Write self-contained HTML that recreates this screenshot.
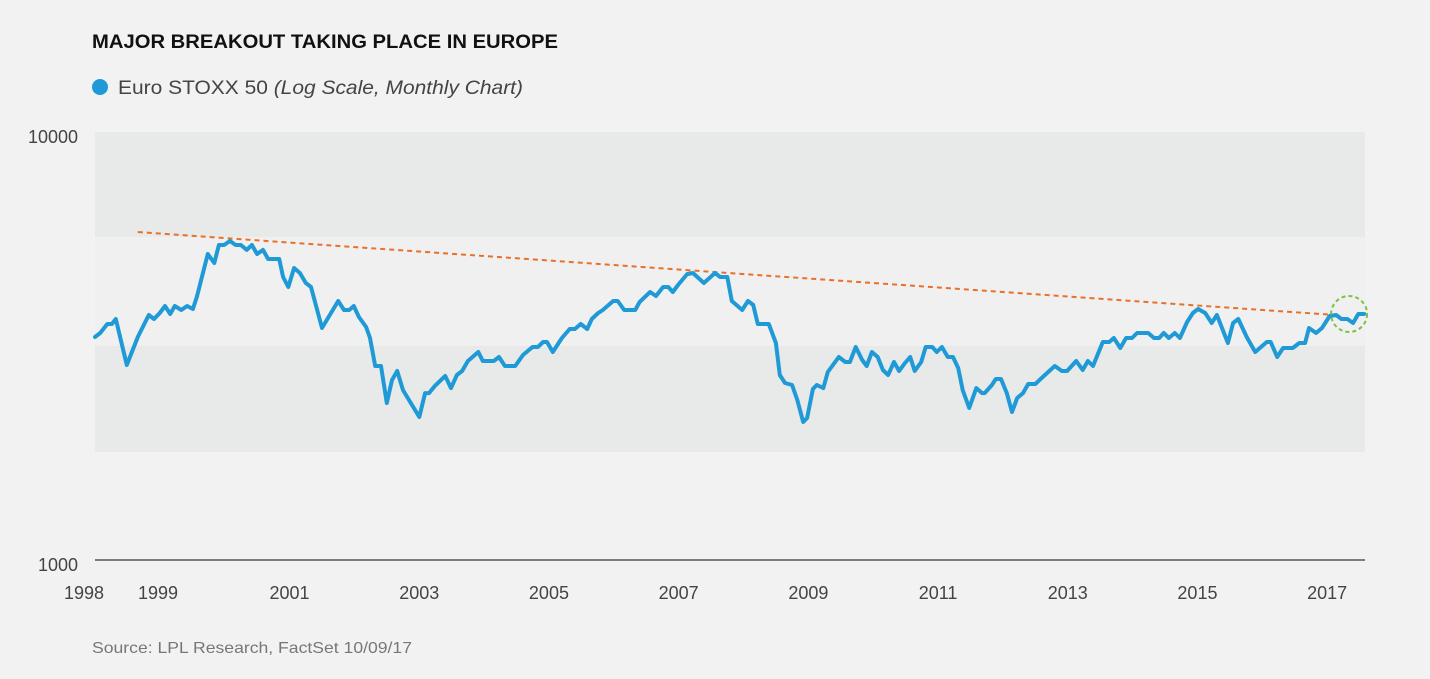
<!DOCTYPE html>
<html><head><meta charset="utf-8"><style>
html,body{margin:0;padding:0;background:#f2f2f2;}
svg{display:block;font-family:"Liberation Sans Narrow","Liberation Sans",sans-serif;}
</style></head><body>
<svg id="chart" width="1430" height="679" viewBox="0 0 1430 679">
<rect width="1430" height="679" fill="#f2f2f2"/>
<g id="bands"></g>
<text x="92" y="48" font-size="19" font-weight="bold" fill="#111" textLength="466" lengthAdjust="spacingAndGlyphs">MAJOR BREAKOUT TAKING PLACE IN EUROPE</text>
<circle cx="100" cy="87" r="8" fill="#1f9ad6"/>
<text x="118" y="94" font-size="19" fill="#444" textLength="405" lengthAdjust="spacingAndGlyphs">Euro STOXX 50 <tspan font-style="italic">(Log Scale, Monthly Chart)</tspan></text>
<g id="yticks"></g>
<g id="xticks"></g>
<line x1="95" y1="560" x2="1365" y2="560" stroke="#555" stroke-width="1.5"/>
<g id="marks"></g>
<text x="92" y="653" font-size="16" fill="#777" textLength="320" lengthAdjust="spacingAndGlyphs">Source: LPL Research, FactSet  10/09/17</text>
</svg>
<script>
const dates=[1998.00,1998.08,1998.19,1998.26,1998.32,1998.49,1998.66,1998.83,1998.91,1999.00,1999.08,1999.16,1999.23,1999.33,1999.42,1999.51,1999.57,1999.74,1999.84,1999.91,1999.99,2000.08,2000.17,2000.25,2000.34,2000.42,2000.50,2000.59,2000.67,2000.84,2000.90,2000.98,2001.07,2001.16,2001.25,2001.33,2001.50,2001.75,2001.84,2001.92,2001.99,2002.07,2002.18,2002.24,2002.32,2002.41,2002.50,2002.58,2002.66,2002.75,2002.86,2003.00,2003.09,2003.15,2003.24,2003.40,2003.49,2003.58,2003.66,2003.75,2003.91,2003.98,2004.15,2004.23,2004.32,2004.48,2004.60,2004.71,2004.75,2004.83,2004.91,2004.97,2005.06,2005.20,2005.32,2005.40,2005.49,2005.59,2005.66,2005.76,2005.83,2005.99,2006.06,2006.16,2006.33,2006.40,2006.56,2006.65,2006.76,2006.84,2006.91,2006.99,2007.13,2007.22,2007.39,2007.56,2007.64,2007.75,2007.82,2007.98,2008.07,2008.15,2008.22,2008.39,2008.50,2008.56,2008.64,2008.75,2008.83,2008.92,2008.98,2009.07,2009.13,2009.23,2009.30,2009.47,2009.57,2009.64,2009.73,2009.83,2009.90,2009.98,2010.07,2010.15,2010.23,2010.32,2010.40,2010.49,2010.57,2010.64,2010.74,2010.81,2010.91,2010.98,2011.06,2011.15,2011.23,2011.31,2011.38,2011.48,2011.59,2011.68,2011.72,2011.83,2011.89,2011.97,2012.06,2012.14,2012.22,2012.31,2012.39,2012.50,2012.63,2012.80,2012.91,2012.99,2013.13,2013.23,2013.31,2013.39,2013.54,2013.64,2013.71,2013.81,2013.90,2013.99,2014.07,2014.24,2014.33,2014.41,2014.48,2014.56,2014.65,2014.73,2014.84,2014.93,2015.01,2015.12,2015.22,2015.30,2015.47,2015.55,2015.63,2015.76,2015.89,2016.07,2016.13,2016.23,2016.32,2016.47,2016.57,2016.66,2016.72,2016.83,2016.92,2017.04,2017.14,2017.22,2017.31,2017.40,2017.48,2017.57];
const values=[3319,3391,3559,3559,3657,2855,3319,3736,3657,3777,3922,3756,3922,3838,3922,3859,4117,5188,4941,5445,5445,5563,5445,5445,5302,5445,5188,5302,5049,5049,4583,4343,4810,4683,4437,4343,3483,4029,3838,3838,3922,3696,3502,3301,2840,2840,2327,2634,2764,2495,2340,2158,2455,2455,2550,2691,2522,2705,2764,2917,3062,2917,2917,2980,2840,2840,3013,3111,3145,3145,3231,3231,3062,3301,3465,3465,3559,3465,3657,3777,3838,4029,4029,3838,3838,4008,4229,4139,4343,4343,4229,4390,4657,4683,4437,4683,4583,4583,4029,3838,4029,3944,3559,3559,3214,2705,2591,2564,2365,2101,2147,2509,2564,2522,2749,2980,2902,2902,3145,2933,2840,3062,2980,2779,2705,2902,2764,2886,2980,2764,2902,3145,3145,3062,3145,2980,2980,2809,2495,2265,2522,2455,2455,2564,2648,2648,2455,2217,2391,2455,2577,2577,2691,2840,2764,2764,2917,2779,2917,2840,3231,3231,3301,3128,3301,3301,3391,3391,3301,3301,3391,3301,3391,3301,3598,3777,3859,3777,3579,3736,3214,3579,3657,3319,3062,3231,3231,2980,3128,3128,3214,3214,3483,3391,3483,3716,3736,3657,3657,3579,3756,3756];
const trendDates=[1998.66,2017.12];
const trendValues=[5838,3736];
const bandEdges=[[5685,10000],[1788,3162]];
const yTickValues=[1000,10000];
const yTickLabels=["1000","10000"];
const xTickYears=[1998,1999,2001,2003,2005,2007,2009,2011,2013,2015,2017];
const xTickLabels=["1998","1999","2001","2003","2005","2007","2009","2011","2013","2015","2017"];
const highlightDate=2017.40, highlightValue=3657;

const NS="http://www.w3.org/2000/svg";
const X=d=>95+(d-1998)*64.85;
const Y=v=>560-428*Math.log10(v/1000);
function mk(tag,attrs,parent){const e=document.createElementNS(NS,tag);for(const k in attrs)e.setAttribute(k,attrs[k]);parent.appendChild(e);return e;}
const bands=document.getElementById('bands');
bandEdges.forEach(b=>{
  const r=mk('rect',{x:95,y:Y(b[1]),width:1270,height:Y(b[0])-Y(b[1]),fill:'#e8e9e9'},bands);
  
  
});
const light=mk('rect',{x:95,y:Y(5685),width:1270,height:Y(3162)-Y(5685),fill:'#f0f0f0'},bands);


const yt=document.getElementById('yticks');
yTickValues.forEach((v,i)=>{
  const t=mk('text',{x:78,y:Y(v)+11,'text-anchor':'end','font-size':18,fill:'#444'},yt);
  t.textContent=yTickLabels[i];
  
  
});
const xt=document.getElementById('xticks');
xTickYears.forEach((yr,i)=>{
  let x=X(yr); if(yr===1998) x=84; if(yr===1999) x=158;
  const t=mk('text',{x:x,y:599,'text-anchor':'middle','font-size':18,fill:'#444'},xt);
  t.textContent=xTickLabels[i];
  
  
});
const marks=document.getElementById('marks');
const tl=mk('line',{x1:X(trendDates[0]),y1:Y(trendValues[0]),x2:X(trendDates[1]),y2:Y(trendValues[1]),stroke:'#e8702a','stroke-width':2,'stroke-dasharray':'5,4'},marks);


const pts=dates.map((d,i)=>X(d).toFixed(1)+','+Y(values[i]).toFixed(1)).join(' ');
const pl=mk('polyline',{points:pts,fill:'none',stroke:'#1f9ad6','stroke-width':4,'stroke-linejoin':'round','stroke-linecap':'round'},marks);


const hc=mk('circle',{cx:X(highlightDate)-4,cy:Y(highlightValue)-5,r:18,fill:'none',stroke:'#7cc04a','stroke-width':2,'stroke-dasharray':'4,3'},marks);


</script>
</body></html>
